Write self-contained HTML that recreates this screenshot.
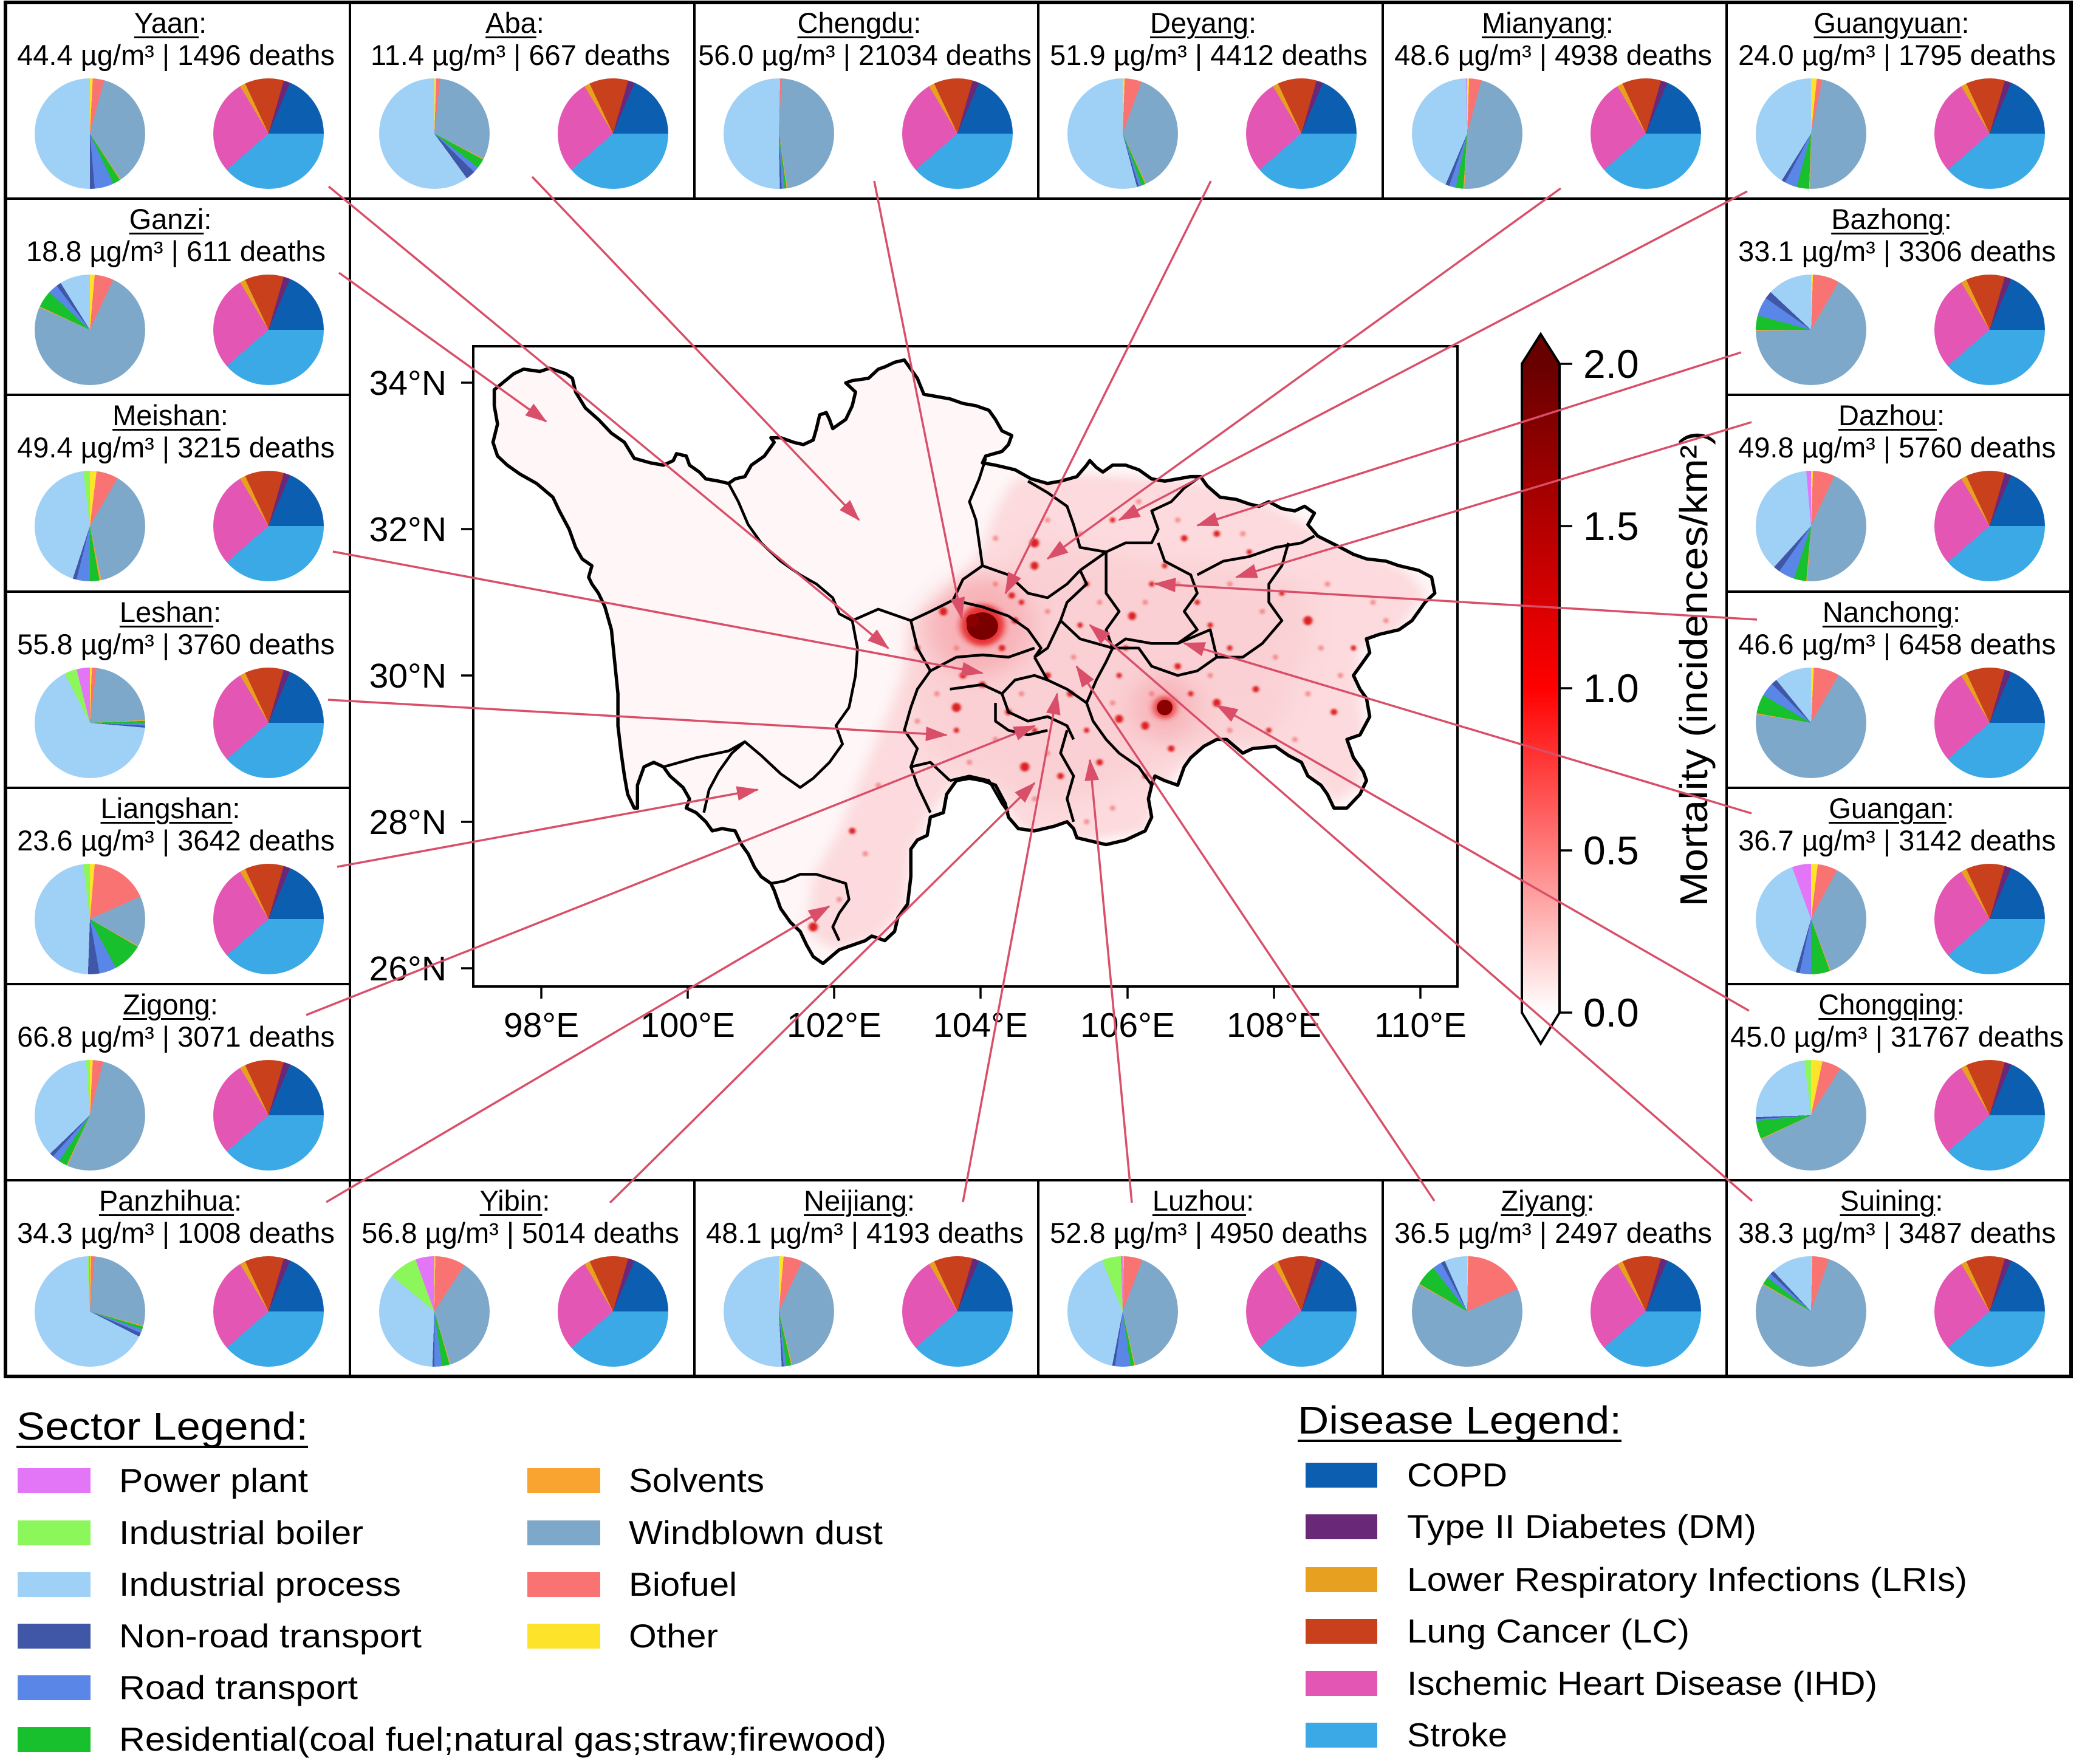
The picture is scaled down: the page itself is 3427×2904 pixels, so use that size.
<!DOCTYPE html>
<html><head><meta charset="utf-8">
<style>
:root{--O:#fde42a;--B:#fa7373;--W:#7ea8c9;--S:#f9a431;--R:#17c02c;--T:#5a86e8;--N:#3f57a6;--I:#9fd0f5;--L:#8cf75a;--P:#e276f6}
html,body{margin:0;padding:0;background:#fff}
body{width:3427px;height:2904px;position:relative;overflow:hidden;font-family:"Liberation Sans",Arial,sans-serif}
.p{position:absolute;width:182px;height:182px;border-radius:50%}
.d{background:conic-gradient(#c8401c 0deg 16deg,#6a2878 16deg 23deg,#0c5fb0 23deg 90deg,#3aa9e6 90deg 229deg,#e456b4 229deg 329deg,#e8a020 329deg 335deg,#c8401c 335deg 360deg)}
.t{position:absolute;width:567px;text-align:center;font-size:47px;line-height:47px;white-space:nowrap;color:#000;margin-top:5px}
.t u{text-decoration-thickness:3px;text-underline-offset:6px}
svg{position:absolute;left:0;top:0}
</style></head><body>

<!-- Row 0 -->
<div class="t" style="left:-3px;top:9px"><u>Yaan</u>:</div><div class="t" style="left:6px;top:62px">44.4 µg/m³ | 1496 deaths</div>
<div class="p" style="left:57px;top:129px;background:conic-gradient(var(--O) 0deg 3deg,var(--B) 3deg 15deg,var(--W) 15deg 146deg,var(--S) 146deg 147deg,var(--R) 147deg 155deg,var(--T) 155deg 175deg,var(--N) 175deg 180deg,var(--I) 180deg 360deg)"></div>
<div class="p d" style="left:351px;top:129px"></div>

<div class="t" style="left:564px;top:9px"><u>Aba</u>:</div><div class="t" style="left:573px;top:62px">11.4 µg/m³ | 667 deaths</div>
<div class="p" style="left:624px;top:129px;background:conic-gradient(var(--O) 0deg 2deg,var(--B) 2deg 6deg,var(--W) 6deg 117deg,var(--S) 117deg 118deg,var(--R) 118deg 128deg,var(--T) 128deg 134deg,var(--N) 134deg 144deg,var(--I) 144deg 360deg)"></div>
<div class="p d" style="left:918px;top:129px"></div>

<div class="t" style="left:1131px;top:9px"><u>Chengdu</u>:</div><div class="t" style="left:1140px;top:62px">56.0 µg/m³ | 21034 deaths</div>
<div class="p" style="left:1191px;top:129px;background:conic-gradient(var(--O) 0deg 1deg,var(--B) 1deg 3deg,var(--W) 3deg 171deg,var(--S) 171deg 172deg,var(--R) 172deg 174deg,var(--T) 174deg 177deg,var(--N) 177deg 179deg,var(--I) 179deg 360deg)"></div>
<div class="p d" style="left:1485px;top:129px"></div>

<div class="t" style="left:1697px;top:9px"><u>Deyang</u>:</div><div class="t" style="left:1706px;top:62px">51.9 µg/m³ | 4412 deaths</div>
<div class="p" style="left:1757px;top:129px;background:conic-gradient(var(--O) 0deg 2deg,var(--B) 2deg 20deg,var(--W) 20deg 155deg,var(--S) 155deg 156deg,var(--R) 156deg 160deg,var(--T) 160deg 163deg,var(--N) 163deg 165deg,var(--I) 165deg 360deg)"></div>
<div class="p d" style="left:2051px;top:129px"></div>

<div class="t" style="left:2264px;top:9px"><u>Mianyang</u>:</div><div class="t" style="left:2273px;top:62px">48.6 µg/m³ | 4938 deaths</div>
<div class="p" style="left:2324px;top:129px;background:conic-gradient(var(--O) 0deg 2deg,var(--B) 2deg 15deg,var(--W) 15deg 183deg,var(--S) 183deg 184deg,var(--R) 184deg 192deg,var(--T) 192deg 199deg,var(--N) 199deg 203deg,var(--I) 203deg 359deg,var(--P) 359deg 360deg)"></div>
<div class="p d" style="left:2618px;top:129px"></div>

<div class="t" style="left:2830px;top:9px"><u>Guangyuan</u>:</div><div class="t" style="left:2839px;top:62px">24.0 µg/m³ | 1795 deaths</div>
<div class="p" style="left:2890px;top:129px;background:conic-gradient(var(--O) 0deg 6deg,var(--B) 6deg 12deg,var(--W) 12deg 181deg,var(--S) 181deg 182deg,var(--R) 182deg 195deg,var(--T) 195deg 208deg,var(--N) 208deg 212deg,var(--I) 212deg 360deg)"></div>
<div class="p d" style="left:3184px;top:129px"></div>

<!-- Left column -->
<div class="t" style="left:-3px;top:332px"><u>Ganzi</u>:</div><div class="t" style="left:6px;top:385px">18.8 µg/m³ | 611 deaths</div>
<div class="p" style="left:57px;top:452px;background:conic-gradient(var(--O) 0deg 5deg,var(--B) 5deg 25deg,var(--W) 25deg 294deg,var(--S) 294deg 295deg,var(--R) 295deg 313deg,var(--T) 313deg 323deg,var(--N) 323deg 328deg,var(--I) 328deg 360deg)"></div>
<div class="p d" style="left:351px;top:452px"></div>

<div class="t" style="left:-3px;top:655px"><u>Meishan</u>:</div><div class="t" style="left:6px;top:708px">49.4 µg/m³ | 3215 deaths</div>
<div class="p" style="left:57px;top:775px;background:conic-gradient(var(--O) 0deg 7deg,var(--B) 7deg 30deg,var(--W) 30deg 168deg,var(--S) 168deg 170deg,var(--R) 170deg 180deg,var(--T) 180deg 194deg,var(--N) 194deg 198deg,var(--I) 198deg 353deg,var(--L) 353deg 360deg)"></div>
<div class="p d" style="left:351px;top:775px"></div>

<div class="t" style="left:-3px;top:979px"><u>Leshan</u>:</div><div class="t" style="left:6px;top:1032px">55.8 µg/m³ | 3760 deaths</div>
<div class="p" style="left:57px;top:1099px;background:conic-gradient(var(--O) 0deg 2deg,var(--B) 2deg 7deg,var(--W) 7deg 87deg,var(--S) 87deg 88deg,var(--R) 88deg 90deg,var(--T) 90deg 93deg,var(--N) 93deg 95deg,var(--I) 95deg 333deg,var(--L) 333deg 346deg,var(--P) 346deg 360deg)"></div>
<div class="p d" style="left:351px;top:1099px"></div>

<div class="t" style="left:-3px;top:1302px"><u>Liangshan</u>:</div><div class="t" style="left:6px;top:1355px">23.6 µg/m³ | 3642 deaths</div>
<div class="p" style="left:57px;top:1422px;background:conic-gradient(var(--O) 0deg 5deg,var(--B) 5deg 66deg,var(--W) 66deg 119deg,var(--S) 119deg 120deg,var(--R) 120deg 152deg,var(--T) 152deg 170deg,var(--N) 170deg 182deg,var(--I) 182deg 353deg,var(--L) 353deg 360deg)"></div>
<div class="p d" style="left:351px;top:1422px"></div>

<div class="t" style="left:-3px;top:1625px"><u>Zigong</u>:</div><div class="t" style="left:6px;top:1678px">66.8 µg/m³ | 3071 deaths</div>
<div class="p" style="left:57px;top:1745px;background:conic-gradient(var(--O) 0deg 3deg,var(--B) 3deg 14deg,var(--W) 14deg 204deg,var(--S) 204deg 205deg,var(--R) 205deg 214deg,var(--T) 214deg 222deg,var(--N) 222deg 226deg,var(--I) 226deg 356deg,var(--L) 356deg 360deg)"></div>
<div class="p d" style="left:351px;top:1745px"></div>

<div class="t" style="left:-3px;top:1948px"><u>Panzhihua</u>:</div><div class="t" style="left:6px;top:2001px">34.3 µg/m³ | 1008 deaths</div>
<div class="p" style="left:57px;top:2068px;background:conic-gradient(var(--O) 0deg 1deg,var(--B) 1deg 5deg,var(--W) 5deg 105deg,var(--S) 105deg 106deg,var(--R) 106deg 109deg,var(--T) 109deg 113deg,var(--N) 113deg 117deg,var(--I) 117deg 357deg,var(--L) 357deg 359deg,var(--P) 359deg 360deg)"></div>
<div class="p d" style="left:351px;top:2068px"></div>

<!-- Right column -->
<div class="t" style="left:2830px;top:332px"><u>Bazhong</u>:</div><div class="t" style="left:2839px;top:385px">33.1 µg/m³ | 3306 deaths</div>
<div class="p" style="left:2890px;top:452px;background:conic-gradient(var(--O) 0deg 2deg,var(--B) 2deg 30deg,var(--W) 30deg 269deg,var(--S) 269deg 270deg,var(--R) 270deg 285deg,var(--T) 285deg 305deg,var(--N) 305deg 313deg,var(--I) 313deg 360deg)"></div>
<div class="p d" style="left:3184px;top:452px"></div>

<div class="t" style="left:2830px;top:655px"><u>Dazhou</u>:</div><div class="t" style="left:2839px;top:708px">49.8 µg/m³ | 5760 deaths</div>
<div class="p" style="left:2890px;top:775px;background:conic-gradient(var(--O) 0deg 2deg,var(--B) 2deg 25deg,var(--W) 25deg 184deg,var(--S) 184deg 185deg,var(--R) 185deg 198deg,var(--T) 198deg 215deg,var(--N) 215deg 222deg,var(--I) 222deg 355deg,var(--P) 355deg 360deg)"></div>
<div class="p d" style="left:3184px;top:775px"></div>

<div class="t" style="left:2830px;top:979px"><u>Nanchong</u>:</div><div class="t" style="left:2839px;top:1032px">46.6 µg/m³ | 6458 deaths</div>
<div class="p" style="left:2890px;top:1099px;background:conic-gradient(var(--O) 0deg 3deg,var(--B) 3deg 30deg,var(--W) 30deg 279deg,var(--S) 279deg 280deg,var(--R) 280deg 300deg,var(--T) 300deg 315deg,var(--N) 315deg 321deg,var(--I) 321deg 360deg)"></div>
<div class="p d" style="left:3184px;top:1099px"></div>

<div class="t" style="left:2830px;top:1302px"><u>Guangan</u>:</div><div class="t" style="left:2839px;top:1355px">36.7 µg/m³ | 3142 deaths</div>
<div class="p" style="left:2890px;top:1422px;background:conic-gradient(var(--O) 0deg 7deg,var(--B) 7deg 28deg,var(--W) 28deg 159deg,var(--S) 159deg 160deg,var(--R) 160deg 180deg,var(--T) 180deg 192deg,var(--N) 192deg 196deg,var(--I) 196deg 340deg,var(--P) 340deg 360deg)"></div>
<div class="p d" style="left:3184px;top:1422px"></div>

<div class="t" style="left:2830px;top:1625px"><u>Chongqing</u>:</div><div class="t" style="left:2839px;top:1678px">45.0 µg/m³ | 31767 deaths</div>
<div class="p" style="left:2890px;top:1745px;background:conic-gradient(var(--O) 0deg 12deg,var(--B) 12deg 32deg,var(--W) 32deg 244deg,var(--S) 244deg 245deg,var(--R) 245deg 264deg,var(--T) 264deg 266deg,var(--N) 266deg 268deg,var(--I) 268deg 353deg,var(--L) 353deg 360deg)"></div>
<div class="p d" style="left:3184px;top:1745px"></div>

<div class="t" style="left:2830px;top:1948px"><u>Suining</u>:</div><div class="t" style="left:2839px;top:2001px">38.3 µg/m³ | 3487 deaths</div>
<div class="p" style="left:2890px;top:2068px;background:conic-gradient(var(--O) 0deg 1deg,var(--B) 1deg 19deg,var(--W) 19deg 299deg,var(--S) 299deg 300deg,var(--R) 300deg 308deg,var(--T) 308deg 313deg,var(--N) 313deg 317deg,var(--I) 317deg 360deg)"></div>
<div class="p d" style="left:3184px;top:2068px"></div>

<!-- Bottom row -->
<div class="t" style="left:564px;top:1948px"><u>Yibin</u>:</div><div class="t" style="left:573px;top:2001px">56.8 µg/m³ | 5014 deaths</div>
<div class="p" style="left:624px;top:2068px;background:conic-gradient(var(--O) 0deg 1deg,var(--B) 1deg 33deg,var(--W) 33deg 163deg,var(--S) 163deg 164deg,var(--R) 164deg 172deg,var(--T) 172deg 180deg,var(--N) 180deg 182deg,var(--I) 182deg 310deg,var(--L) 310deg 340deg,var(--P) 340deg 360deg)"></div>
<div class="p d" style="left:918px;top:2068px"></div>

<div class="t" style="left:1131px;top:1948px"><u>Neijiang</u>:</div><div class="t" style="left:1140px;top:2001px">48.1 µg/m³ | 4193 deaths</div>
<div class="p" style="left:1191px;top:2068px;background:conic-gradient(var(--O) 0deg 5deg,var(--B) 5deg 25deg,var(--W) 25deg 166deg,var(--S) 166deg 167deg,var(--R) 167deg 172deg,var(--T) 172deg 175deg,var(--N) 175deg 177deg,var(--I) 177deg 360deg)"></div>
<div class="p d" style="left:1485px;top:2068px"></div>

<div class="t" style="left:1697px;top:1948px"><u>Luzhou</u>:</div><div class="t" style="left:1706px;top:2001px">52.8 µg/m³ | 4950 deaths</div>
<div class="p" style="left:1757px;top:2068px;background:conic-gradient(var(--O) 0deg 1deg,var(--B) 1deg 21deg,var(--W) 21deg 167deg,var(--S) 167deg 168deg,var(--R) 168deg 172deg,var(--T) 172deg 188deg,var(--N) 188deg 191deg,var(--I) 191deg 338deg,var(--L) 338deg 358deg,var(--P) 358deg 360deg)"></div>
<div class="p d" style="left:2051px;top:2068px"></div>

<div class="t" style="left:2264px;top:1948px"><u>Ziyang</u>:</div><div class="t" style="left:2273px;top:2001px">36.5 µg/m³ | 2497 deaths</div>
<div class="p" style="left:2324px;top:2068px;background:conic-gradient(var(--O) 0deg 1deg,var(--B) 1deg 66deg,var(--W) 66deg 299deg,var(--S) 299deg 300deg,var(--R) 300deg 322deg,var(--T) 322deg 332deg,var(--N) 332deg 336deg,var(--I) 336deg 360deg)"></div>
<div class="p d" style="left:2618px;top:2068px"></div>

<svg width="3427" height="2904" viewBox="0 0 3427 2904" xmlns="http://www.w3.org/2000/svg" font-family="Liberation Sans, Arial, sans-serif">
<style>.m polyline,.m polygon{vector-effect:non-scaling-stroke}</style>
<defs>
<polygon id="ol" vector-effect="non-scaling-stroke" points="50,135 80,100 95,90 120,95 135,88 160,100 170,110 175,140 190,175 210,200 230,230 250,250 265,285 290,295 310,300 325,290 330,275 345,280 350,300 365,315 375,330 395,335 410,340 420,330 435,325 445,300 465,280 480,250 475,240 490,240 510,250 525,255 540,245 545,220 550,190 560,185 565,200 570,220 580,210 590,200 600,170 605,140 590,120 600,115 625,110 640,90 650,85 665,75 680,70 690,90 700,110 710,145 730,150 750,155 770,165 790,170 810,180 820,200 830,225 845,235 840,255 830,270 805,280 800,295 820,300 850,310 875,330 900,340 920,335 945,325 960,300 965,290 975,305 985,315 1000,300 1020,300 1040,310 1060,330 1080,335 1100,330 1120,325 1135,325 1145,345 1165,370 1190,375 1210,385 1225,390 1240,380 1260,395 1280,400 1295,390 1310,405 1300,430 1315,455 1350,480 1370,495 1390,505 1420,510 1440,520 1470,530 1490,545 1495,580 1480,600 1470,620 1460,640 1440,660 1410,670 1390,680 1395,710 1380,740 1370,760 1380,790 1390,810 1395,850 1380,890 1360,900 1370,940 1385,970 1390,990 1380,1020 1360,1050 1340,1050 1330,1020 1320,1000 1300,980 1290,950 1270,935 1250,915 1215,920 1200,930 1175,900 1160,900 1140,915 1120,940 1110,960 1100,1000 1080,990 1065,980 1060,1000 1055,1030 1060,1070 1050,1100 1020,1120 990,1130 960,1120 945,1115 940,1095 930,1080 910,1090 880,1100 855,1095 840,1070 835,1040 820,1000 800,990 780,985 760,990 745,1020 740,1060 720,1070 715,1110 700,1120 690,1140 690,1200 685,1260 670,1290 665,1320 650,1340 630,1330 620,1340 600,1350 580,1360 555,1390 540,1375 530,1350 520,1320 505,1300 490,1270 480,1230 475,1215 460,1200 450,1180 440,1150 430,1130 420,1100 400,1095 385,1100 375,1080 360,1060 345,1050 350,1030 340,1005 320,980 310,960 295,950 280,960 270,1000 270,1050 265,1050 255,1020 250,980 245,930 240,870 240,800 235,730 230,660 220,610 210,580 200,560 195,545 200,520 185,505 175,480 165,440 150,400 140,370 115,340 90,320 70,300 55,280 48,250 55,210 50,170"/>
<clipPath id="cp"><use href="#ol"/></clipPath>
<filter id="b1" x="-40%" y="-40%" width="180%" height="180%"><feGaussianBlur stdDeviation="10"/></filter>
<filter id="b4" x="-40%" y="-40%" width="180%" height="180%"><feGaussianBlur stdDeviation="20"/></filter>
<filter id="b2" x="-60%" y="-60%" width="220%" height="220%"><feGaussianBlur stdDeviation="5"/></filter>
<filter id="b3" x="-60%" y="-60%" width="220%" height="220%"><feGaussianBlur stdDeviation="2"/></filter>
<linearGradient id="cb" x1="0" y1="0" x2="0" y2="1"><stop offset="0" stop-color="#680000"/><stop offset="0.25" stop-color="#b40000"/><stop offset="0.5" stop-color="#ff0000"/><stop offset="0.75" stop-color="#ff7b7b"/><stop offset="1" stop-color="#ffffff"/></linearGradient>
<marker id="ah" markerUnits="userSpaceOnUse" markerWidth="36" markerHeight="24" viewBox="0 0 36 24" refX="34" refY="12" orient="auto"><path d="M0,0 L36,12 L0,24 z" fill="#d94f6a"/></marker>
</defs>

<!-- box borders -->
<g stroke="#000" stroke-width="4" fill="none">
<line x1="576" y1="4" x2="576" y2="2266"/>
<line x1="2842" y1="4" x2="2842" y2="2266"/>
<line x1="1143" y1="4" x2="1143" y2="327"/><line x1="1709" y1="4" x2="1709" y2="327"/><line x1="2276" y1="4" x2="2276" y2="327"/>
<line x1="1143" y1="1943" x2="1143" y2="2266"/><line x1="1709" y1="1943" x2="1709" y2="2266"/><line x1="2276" y1="1943" x2="2276" y2="2266"/>
<line x1="9" y1="327" x2="3409" y2="327"/>
<line x1="9" y1="1943" x2="3409" y2="1943"/>
<line x1="9" y1="650" x2="576" y2="650"/><line x1="9" y1="974" x2="576" y2="974"/><line x1="9" y1="1297" x2="576" y2="1297"/><line x1="9" y1="1620" x2="576" y2="1620"/>
<line x1="2842" y1="650" x2="3409" y2="650"/><line x1="2842" y1="974" x2="3409" y2="974"/><line x1="2842" y1="1297" x2="3409" y2="1297"/><line x1="2842" y1="1620" x2="3409" y2="1620"/>
<rect x="9" y="4" width="3400" height="2262" stroke-width="6"/>
</g>

<!-- map -->
<g class="m" transform="translate(760,540) scale(1.0714,0.7526)">
<use href="#ol" fill="#fef6f7"/>
<g clip-path="url(#cp)">
<polygon points="690,640 740,590 770,540 800,480 820,400 850,330 950,320 1060,330 1140,340 1260,400 1330,460 1450,530 1480,580 1440,660 1380,700 1380,800 1390,900 1380,1000 1340,1040 1290,960 1200,920 1120,940 1080,1000 1050,1100 960,1120 860,1100 820,1010 760,990 720,1060 690,1150 680,1270 640,1330 570,1360 530,1320 540,1200 580,1100 620,960 650,860 680,760" fill="#fcdadd" filter="url(#b1)"/>
<polygon points="700,620 800,560 880,460 1000,500 1150,520 1300,560 1300,700 1250,880 1100,930 1000,1000 900,1050 800,980 720,920 690,800" fill="#f8c6ca" opacity="0.45" filter="url(#b4)"/>
<ellipse cx="795" cy="650" rx="80" ry="110" fill="#f27b83" opacity="0.35" filter="url(#b4)"/>
<ellipse cx="1080" cy="830" rx="50" ry="70" fill="#f27b83" opacity="0.3" filter="url(#b4)"/>
<ellipse cx="800" cy="650" rx="34" ry="46" fill="#e41c1c" opacity="0.85" filter="url(#b2)"/>
<ellipse cx="1080" cy="830" rx="18" ry="25" fill="#e42020" opacity="0.75" filter="url(#b2)"/>
<g fill="#ef7070" opacity="0.7" filter="url(#b3)">
<ellipse cx="820" cy="560" rx="4" ry="6"/><ellipse cx="900" cy="620" rx="4" ry="6"/><ellipse cx="980" cy="600" rx="4" ry="6"/><ellipse cx="1050" cy="600" rx="4" ry="6"/>
<ellipse cx="1100" cy="560" rx="4" ry="6"/><ellipse cx="1180" cy="560" rx="4" ry="6"/><ellipse cx="1230" cy="620" rx="4" ry="6"/><ellipse cx="1330" cy="560" rx="4" ry="6"/>
<ellipse cx="1400" cy="600" rx="4" ry="6"/><ellipse cx="1350" cy="760" rx="4" ry="6"/><ellipse cx="1300" cy="800" rx="4" ry="6"/><ellipse cx="1280" cy="900" rx="4" ry="6"/>
<ellipse cx="1180" cy="880" rx="4" ry="6"/><ellipse cx="1150" cy="760" rx="4" ry="6"/><ellipse cx="1060" cy="800" rx="4" ry="6"/><ellipse cx="1000" cy="820" rx="4" ry="6"/>
<ellipse cx="940" cy="720" rx="4" ry="6"/><ellipse cx="860" cy="800" rx="4" ry="6"/><ellipse cx="820" cy="900" rx="4" ry="6"/><ellipse cx="780" cy="950" rx="4" ry="6"/>
<ellipse cx="900" cy="930" rx="4" ry="6"/><ellipse cx="1000" cy="1050" rx="4" ry="6"/><ellipse cx="960" cy="1080" rx="4" ry="6"/><ellipse cx="1200" cy="450" rx="4" ry="6"/>
<ellipse cx="1100" cy="420" rx="4" ry="6"/><ellipse cx="950" cy="450" rx="4" ry="6"/><ellipse cx="1040" cy="380" rx="4" ry="6"/><ellipse cx="900" cy="420" rx="4" ry="6"/>
<ellipse cx="820" cy="460" rx="4" ry="6"/><ellipse cx="760" cy="700" rx="4" ry="6"/><ellipse cx="730" cy="800" rx="4" ry="6"/><ellipse cx="700" cy="860" rx="4" ry="6"/>
<ellipse cx="640" cy="1000" rx="4" ry="6"/><ellipse cx="620" cy="1150" rx="4" ry="6"/><ellipse cx="580" cy="1250" rx="4" ry="6"/><ellipse cx="1320" cy="700" rx="4" ry="6"/>
<ellipse cx="1420" cy="640" rx="4" ry="6"/><ellipse cx="1250" cy="720" rx="4" ry="6"/><ellipse cx="1180" cy="980" rx="4" ry="6"/><ellipse cx="880" cy="1030" rx="4" ry="6"/>
</g>
<g fill="#dc2020" filter="url(#b3)">
<ellipse cx="880" cy="470" rx="7" ry="10"/><ellipse cx="880" cy="520" rx="6" ry="9"/><ellipse cx="845" cy="585" rx="5" ry="7"/>
<ellipse cx="1110" cy="460" rx="5" ry="7"/><ellipse cx="1160" cy="450" rx="5" ry="7"/><ellipse cx="1030" cy="630" rx="6" ry="9"/>
<ellipse cx="1300" cy="640" rx="7" ry="10"/><ellipse cx="1220" cy="790" rx="5" ry="7"/><ellipse cx="1340" cy="840" rx="5" ry="7"/>
<ellipse cx="1160" cy="820" rx="6" ry="9"/><ellipse cx="1050" cy="870" rx="6" ry="9"/><ellipse cx="1090" cy="920" rx="5" ry="7"/>
<ellipse cx="980" cy="950" rx="5" ry="7"/><ellipse cx="865" cy="960" rx="7" ry="10"/><ellipse cx="760" cy="830" rx="7" ry="10"/>
<ellipse cx="840" cy="840" rx="5" ry="7"/><ellipse cx="600" cy="1100" rx="5" ry="7"/><ellipse cx="540" cy="1310" rx="7" ry="10"/>
<ellipse cx="850" cy="640" rx="5" ry="7"/><ellipse cx="935" cy="800" rx="5" ry="7"/><ellipse cx="1010" cy="855" rx="6" ry="9"/>
<ellipse cx="1260" cy="580" rx="4" ry="6"/><ellipse cx="1100" cy="740" rx="5" ry="7"/><ellipse cx="740" cy="620" rx="6" ry="9"/>
<ellipse cx="860" cy="600" rx="4" ry="6"/><ellipse cx="950" cy="650" rx="4" ry="6"/><ellipse cx="1130" cy="600" rx="4" ry="6"/>
<ellipse cx="1020" cy="700" rx="4" ry="6"/><ellipse cx="900" cy="760" rx="5" ry="7"/><ellipse cx="800" cy="780" rx="5" ry="7"/>
<ellipse cx="960" cy="880" rx="4" ry="6"/><ellipse cx="1180" cy="700" rx="4" ry="6"/><ellipse cx="1060" cy="560" rx="4" ry="6"/>
<ellipse cx="1000" cy="420" rx="4" ry="6"/><ellipse cx="1210" cy="490" rx="4" ry="6"/><ellipse cx="1080" cy="520" rx="4" ry="6"/>
<ellipse cx="1370" cy="700" rx="4" ry="6"/><ellipse cx="1240" cy="880" rx="4" ry="6"/><ellipse cx="920" cy="980" rx="5" ry="7"/>
<ellipse cx="880" cy="880" rx="4" ry="6"/><ellipse cx="770" cy="760" rx="5" ry="7"/><ellipse cx="830" cy="700" rx="5" ry="7"/>
<ellipse cx="1120" cy="800" rx="4" ry="6"/><ellipse cx="1010" cy="760" rx="4" ry="6"/><ellipse cx="700" cy="700" rx="4" ry="6"/>
<ellipse cx="760" cy="880" rx="4" ry="6"/><ellipse cx="1290" cy="980" rx="4" ry="6"/><ellipse cx="1150" cy="650" rx="4" ry="6"/>
<ellipse cx="960" cy="560" rx="4" ry="6"/><ellipse cx="1050" cy="980" rx="4" ry="6"/>
</g>
<ellipse cx="800" cy="652" rx="24" ry="30" fill="#7a0000"/>
<ellipse cx="785" cy="640" rx="10" ry="14" fill="#8a0000"/>
<ellipse cx="1080" cy="830" rx="12" ry="17" fill="#8b0000"/>
</g>
<g fill="none" stroke="#000" stroke-width="4.5" stroke-linejoin="round">
<polyline points="410,340 425,380 440,430 460,470 490,510 520,540 545,560 570,590 580,625 600,640"/>
<polyline points="600,640 640,615 690,640 720,620 755,595 770,550 800,520 795,470 790,420 780,380 795,330 805,285"/>
<polyline points="600,640 608,700 605,760 595,830 575,870 585,910 565,950 540,985 520,1005 490,975 460,935 435,905 415,930 395,970 380,1010 372,1060"/>
<polyline points="310,960 360,940 410,925 435,905"/>
<polyline points="690,640 700,700 720,750 700,790 690,830 680,880 700,920 690,960 720,950 750,990"/>
<polyline points="690,960 700,1000 720,1060"/>
<polyline points="720,750 760,720 800,715 840,720 880,700"/>
<polyline points="755,595 800,610 840,630 870,660 890,700 880,720"/>
<polyline points="800,520 840,540 870,580 900,590 930,560 950,530"/>
<polyline points="870,335 900,360 930,390 940,430 950,480 990,490"/>
<polyline points="950,530 960,560 930,600 920,640 950,680 1000,700"/>
<polyline points="990,490 1020,470 1060,470 1070,440 1060,400 1090,380 1110,350 1135,325"/>
<polyline points="1070,470 1080,510 1120,540 1130,580 1110,620 1130,660 1100,690 1060,690 1020,680 1000,700 990,660 1010,620 990,580 990,530 990,490 950,530"/>
<polyline points="1130,540 1170,510 1210,500 1250,480 1290,470 1310,455"/>
<polyline points="1270,470 1260,520 1240,560 1240,600 1260,640 1230,690 1200,720 1160,720"/>
<polyline points="1100,690 1150,660 1160,720 1130,750 1100,760 1060,740 1040,700 1000,700"/>
<polyline points="1000,700 990,730 975,770 960,820 970,860 990,900 1010,930 1040,960 1060,1000"/>
<polyline points="920,640 900,700 880,720"/>
<polyline points="880,720 900,770 930,790 960,820"/>
<polyline points="750,790 800,780 830,800 850,770 880,760 900,770"/>
<polyline points="830,800 840,840 870,860 900,850 930,870 940,900"/>
<polyline points="820,820 820,860 840,880 870,890 900,880"/>
<polyline points="930,880 920,930 940,980 930,1030 940,1080"/>
<polyline points="750,990 780,980 810,990 830,1040 840,1060"/>
<polyline points="475,1215 495,1210 520,1195 545,1195 590,1215 595,1250 580,1280 570,1310 580,1340"/>
</g>
<use href="#ol" fill="none" stroke="#000" stroke-width="5.5" stroke-linejoin="round"/>
</g>

<!-- map frame & ticks -->
<rect x="779" y="570" width="1620" height="1054" fill="none" stroke="#000" stroke-width="4"/>
<g stroke="#000" stroke-width="3.5">
<line x1="759" y1="630" x2="779" y2="630"/><line x1="759" y1="871" x2="779" y2="871"/><line x1="759" y1="1112" x2="779" y2="1112"/><line x1="759" y1="1353" x2="779" y2="1353"/><line x1="759" y1="1594" x2="779" y2="1594"/>
<line x1="891" y1="1624" x2="891" y2="1644"/><line x1="1132" y1="1624" x2="1132" y2="1644"/><line x1="1373" y1="1624" x2="1373" y2="1644"/><line x1="1614" y1="1624" x2="1614" y2="1644"/><line x1="1856" y1="1624" x2="1856" y2="1644"/><line x1="2097" y1="1624" x2="2097" y2="1644"/><line x1="2338" y1="1624" x2="2338" y2="1644"/>
</g>
<g font-size="57" fill="#000">
<text x="735" y="650" text-anchor="end">34°N</text><text x="735" y="891" text-anchor="end">32°N</text><text x="735" y="1132" text-anchor="end">30°N</text><text x="735" y="1373" text-anchor="end">28°N</text><text x="735" y="1614" text-anchor="end">26°N</text>
<g text-anchor="middle">
<text x="891" y="1707">98°E</text><text x="1132" y="1707">100°E</text><text x="1373" y="1707">102°E</text><text x="1614" y="1707">104°E</text><text x="1856" y="1707">106°E</text><text x="2097" y="1707">108°E</text><text x="2338" y="1707">110°E</text>
</g>
</g>

<!-- colorbar -->
<rect x="2505" y="599" width="62" height="1068" fill="url(#cb)"/>
<polygon points="2505,599 2536,550 2567,599" fill="#680000"/>
<polygon points="2505,1667 2536,1718 2567,1667" fill="#fff"/>
<path d="M2505,599 L2536,550 L2567,599 L2567,1667 L2536,1718 L2505,1667 Z" fill="none" stroke="#000" stroke-width="4"/>
<g stroke="#000" stroke-width="3.5">
<line x1="2567" y1="599" x2="2588" y2="599"/><line x1="2567" y1="866" x2="2588" y2="866"/><line x1="2567" y1="1133" x2="2588" y2="1133"/><line x1="2567" y1="1400" x2="2588" y2="1400"/><line x1="2567" y1="1667" x2="2588" y2="1667"/>
</g>
<g font-size="66" fill="#000">
<text x="2606" y="622">2.0</text><text x="2606" y="889">1.5</text><text x="2606" y="1156">1.0</text><text x="2606" y="1423">0.5</text><text x="2606" y="1690">0.0</text>
</g>
<text transform="translate(2810,1101) rotate(-90)" text-anchor="middle" font-size="64" textLength="783" lengthAdjust="spacingAndGlyphs">Mortality (incidences/km²)</text>

<!-- arrows -->
<g stroke="#d94f6a" stroke-width="3.5" marker-end="url(#ah)">
<line x1="541" y1="307" x2="1462" y2="1067"/>
<line x1="876" y1="291" x2="1414" y2="856"/>
<line x1="1439" y1="298" x2="1583" y2="1018"/>
<line x1="1993" y1="298" x2="1655" y2="977"/>
<line x1="2569" y1="310" x2="1724" y2="920"/>
<line x1="2876" y1="315" x2="1842" y2="856"/>
<line x1="558" y1="449" x2="899" y2="694"/>
<line x1="2866" y1="580" x2="1971" y2="865"/>
<line x1="2883" y1="695" x2="2035" y2="950"/>
<line x1="2892" y1="1020" x2="1901" y2="961"/>
<line x1="2883" y1="1339" x2="1949" y2="1059"/>
<line x1="2879" y1="1664" x2="2003" y2="1161"/>
<line x1="2884" y1="1977" x2="1794" y2="1029"/>
<line x1="548" y1="908" x2="1617" y2="1108"/>
<line x1="540" y1="1152" x2="1558" y2="1210"/>
<line x1="555" y1="1427" x2="1247" y2="1300"/>
<line x1="504" y1="1671" x2="1703" y2="1195"/>
<line x1="537" y1="1979" x2="1365" y2="1492"/>
<line x1="1004" y1="1980" x2="1703" y2="1289"/>
<line x1="1585" y1="1979" x2="1740" y2="1142"/>
<line x1="1863" y1="1980" x2="1794" y2="1251"/>
<line x1="2361" y1="1977" x2="1772" y2="1097"/>
</g>

<!-- Sector legend -->
<text x="27" y="2370" font-size="64" textLength="480" lengthAdjust="spacingAndGlyphs">Sector Legend:</text>
<rect x="27" y="2380" width="480" height="4" fill="#000"/>
<rect x="29" y="2417" width="120" height="41" fill="#e276f6"/>
<rect x="29" y="2503" width="120" height="41" fill="#8cf75a"/>
<rect x="29" y="2588" width="120" height="41" fill="#9fd0f5"/>
<rect x="29" y="2673" width="120" height="41" fill="#3f57a6"/>
<rect x="29" y="2758" width="120" height="41" fill="#5a86e8"/>
<rect x="29" y="2843" width="120" height="41" fill="#17c02c"/>
<rect x="868" y="2417" width="120" height="41" fill="#f9a431"/>
<rect x="868" y="2503" width="120" height="41" fill="#7ea8c9"/>
<rect x="868" y="2588" width="120" height="41" fill="#fa7373"/>
<rect x="868" y="2673" width="120" height="41" fill="#fde42a"/>
<g font-size="55" fill="#000">
<text x="196" y="2456" textLength="311" lengthAdjust="spacingAndGlyphs">Power plant</text>
<text x="196" y="2542" textLength="402" lengthAdjust="spacingAndGlyphs">Industrial boiler</text>
<text x="196" y="2627" textLength="464" lengthAdjust="spacingAndGlyphs">Industrial process</text>
<text x="196" y="2712" textLength="498" lengthAdjust="spacingAndGlyphs">Non-road transport</text>
<text x="196" y="2797" textLength="393" lengthAdjust="spacingAndGlyphs">Road transport</text>
<text x="196" y="2882" textLength="1263" lengthAdjust="spacingAndGlyphs">Residential(coal fuel;natural gas;straw;firewood)</text>
<text x="1035" y="2456" textLength="223" lengthAdjust="spacingAndGlyphs">Solvents</text>
<text x="1035" y="2542" textLength="418" lengthAdjust="spacingAndGlyphs">Windblown dust</text>
<text x="1035" y="2627" textLength="178" lengthAdjust="spacingAndGlyphs">Biofuel</text>
<text x="1035" y="2712" textLength="147" lengthAdjust="spacingAndGlyphs">Other</text>
</g>

<!-- Disease legend -->
<text x="2136" y="2360" font-size="64" textLength="533" lengthAdjust="spacingAndGlyphs">Disease Legend:</text>
<rect x="2136" y="2370" width="533" height="4" fill="#000"/>
<rect x="2149" y="2408" width="118" height="41" fill="#0c5fb0"/>
<rect x="2149" y="2493" width="118" height="41" fill="#6a2878"/>
<rect x="2149" y="2580" width="118" height="41" fill="#e8a020"/>
<rect x="2149" y="2665" width="118" height="41" fill="#c8401c"/>
<rect x="2149" y="2751" width="118" height="41" fill="#e456b4"/>
<rect x="2149" y="2836" width="118" height="41" fill="#3aa9e6"/>
<g font-size="55" fill="#000">
<text x="2316" y="2447" textLength="165" lengthAdjust="spacingAndGlyphs">COPD</text>
<text x="2316" y="2532" textLength="575" lengthAdjust="spacingAndGlyphs">Type II Diabetes (DM)</text>
<text x="2316" y="2619" textLength="922" lengthAdjust="spacingAndGlyphs">Lower Respiratory Infections (LRIs)</text>
<text x="2316" y="2704" textLength="465" lengthAdjust="spacingAndGlyphs">Lung Cancer (LC)</text>
<text x="2316" y="2790" textLength="774" lengthAdjust="spacingAndGlyphs">Ischemic Heart Disease (IHD)</text>
<text x="2316" y="2875" textLength="165" lengthAdjust="spacingAndGlyphs">Stroke</text>
</g>
</svg>
</body></html>
